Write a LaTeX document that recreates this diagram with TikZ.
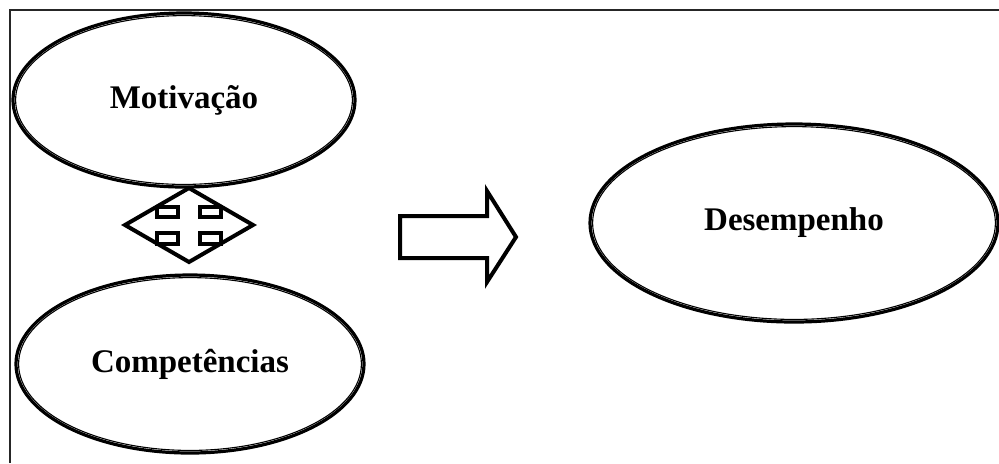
\documentclass[tikz,border=0pt]{standalone}
\usepackage{fontspec}
\setmainfont{Liberation Serif}
\usetikzlibrary{shapes.geometric}
\newcommand{\drawthick}{\draw[line width=2pt, line join=miter]}
\tikzset{
  oval/.style={ellipse, draw, line width=1.6pt, inner sep=0pt,
    font=\fontsize{16.5}{18}\selectfont\bfseries},
  ovalinner/.style={ellipse, draw, line width=0.55pt, inner sep=0pt},
  frameline/.style={line width=1.2pt, draw=black!85}
}
% oval with a thin inner rim: name, position, width, height, text
\newcommand{\ovalnode}[5]{
  \node[oval, minimum width=#3, minimum height=#4] (#1) at #2 {#5};
  \node[ovalinner, minimum width=#3-2.6pt, minimum height=#4-2.6pt] at (#1.center) {};
}
\begin{document}
\begin{tikzpicture}[x=0.5pt, y=-0.5pt]
\useasboundingbox (0,0) rectangle (999,463);
\draw[frameline] (10,463)--(10,10)--(999,10);
% ovals
\ovalnode{motiv}{(184,100)}{171pt}{87pt}{Motivação}
\ovalnode{comp}{(190,364)}{174pt}{89pt}{Competências}
\ovalnode{desemp}{(794,223)}{204pt}{99pt}{Desempenho}
% four-way arrow
\drawthick (125,225)--++(32,-18.5)--++(32,-18.5)--++(32,18.5)--++(32,18.5)
  --++(-32,18.5)--++(-32,18.5)--++(-32,-18.5)--cycle;
\foreach \sx in {1,-1}{
  \foreach \sy in {1,-1}{
    \drawthick (189+11*\sx,225+8*\sy) rectangle (189+32*\sx,225+18.5*\sy);
  }
}
% right arrow
\drawthick (400,216)--++(87,0)--++(0,-25)--++(29,46)--++(-29,45)--++(0,-24)--++(-87,0)--cycle;
\end{tikzpicture}
\end{document}
